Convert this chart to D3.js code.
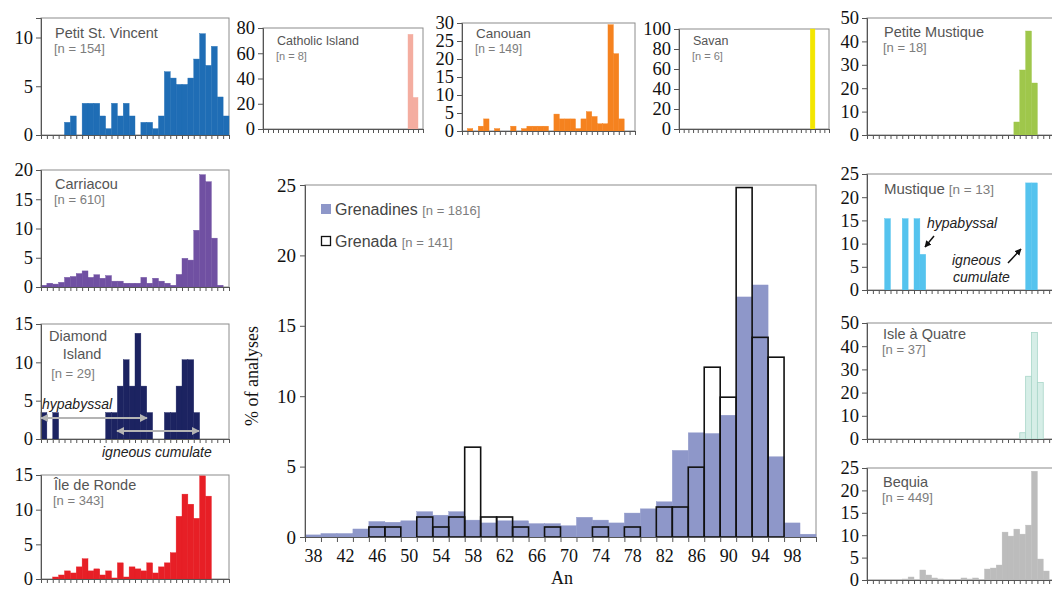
<!DOCTYPE html>
<html lang="en">
<head>
<meta charset="UTF-8">
<title>Plagioclase An histograms</title>
<script src="https://d3js.org/d3.v7.min.js"></script>
<style>
  body { margin: 0; background: #fff; }
  svg text { font-family: "Liberation Serif", "Times New Roman", serif; fill: #111; }
  .ttl { font-family: "Liberation Sans", Arial, sans-serif; fill: #555; }
  .nl { font-family: "Liberation Sans", Arial, sans-serif; fill: #7d7d7d; }
  .note { font-family: "Liberation Sans", Arial, sans-serif; font-style: italic; fill: #222; }
  .frame { fill: none; stroke: #8c8c8c; stroke-width: 1; }
  .axis path, .axis line { stroke: #555; }
</style>
</head>
<body>
<svg id="fig" width="1052" height="589"></svg>
<script>
// An bins (2-unit wide categories) and axis labels
const anBins = [38,40,42,44,46,48,50,52,54,56,58,60,62,64,66,68,70,72,74,76,78,80,82,84,86,88,90,92,94,96,98,100];
const anEdges = [37,39,41,43,45,47,49,51,53,55,57,59,61,63,65,67,69,71,73,75,77,79,81,83,85,87,89,91,93,95,97,99,101];
const anLabels = [38,42,46,50,54,58,62,66,70,74,78,82,86,90,94,98];

// main chart, % of analyses per bin
const grenadines = [0.15,0.25,0.25,0.57,1.1,1.05,1.15,1.8,1.55,1.8,1.2,1.0,1.15,1.15,0.95,0.95,0.8,1.4,1.2,1.0,1.7,2.0,2.5,6.15,7.4,7.35,8.65,17.05,17.9,5.7,1.0,0.2];
const grenada = [0,0,0,0,0.71,0.71,0,1.42,0.71,1.42,6.38,1.42,1.42,0.71,0,0.71,0,0,0.71,0,0.71,0,2.13,2.13,4.96,12.06,9.93,24.82,14.18,12.77,0,0];

// individual islands, % of analyses per bin
const petitStVincent = [0,0,0,0,1.30,1.95,0,3.25,3.25,3.25,1.95,0.65,3.25,1.95,3.25,1.95,0,1.30,1.30,0.65,1.95,6.49,5.84,5.19,5.19,5.84,7.79,10.39,7.14,9.09,3.90,1.95];
const catholicIsland = [0,0,0,0,0,0,0,0,0,0,0,0,0,0,0,0,0,0,0,0,0,0,0,0,0,0,0,0,0,75,25,0];
const canouan = [0,0.67,0,1.34,3.36,0,0.67,0,0,1.34,0,0.67,1.34,1.34,1.34,1.34,0,4.70,3.36,3.36,3.36,0.67,3.36,5.37,4.03,2.01,2.01,29.53,21.48,3.36,0,0];
const savan = [0,0,0,0,0,0,0,0,0,0,0,0,0,0,0,0,0,0,0,0,0,0,0,0,0,0,0,0,100,0,0,0];
const petiteMustique = [0,0,0,0,0,0,0,0,0,0,0,0,0,0,0,0,0,0,0,0,0,0,0,0,0,5.56,27.78,44.44,22.22,0,0,0];
const carriacou = [0.3,0.65,0.5,0.8,1.65,1.8,2.3,2.75,1.65,2.1,1.5,1.95,1.0,1.0,0.65,0.65,0.65,1.65,0.65,1.5,1.0,0.65,0.3,2.15,4.9,4.6,9.7,19.2,18.0,8.35,0.3,0];
const diamondIsland = [3.45,0,3.45,0,0,0,0,0,0,0,0,3.45,3.45,6.90,10.34,6.90,13.79,6.90,3.45,0,0,3.45,3.45,6.90,10.34,10.34,3.45,0,0,0,0,0];
const ileDeRonde = [0,0,0.29,0.58,1.17,0.87,1.75,2.92,1.17,1.46,0.58,1.17,0.15,2.33,0.29,1.75,1.46,1.17,2.33,0.87,1.75,2.33,3.79,9.04,12.24,10.79,8.75,14.87,11.95,0,0,0];
const mustique = [0,0,0,15.38,0,0,15.38,0,15.38,7.69,0,0,0,0,0,0,0,0,0,0,0,0,0,0,0,0,0,23.08,23.08,0,0,0];
const isleAQuatre = [0,0,0,0,0,0,0,0,0,0,0,0,0,0,0,0,0,0,0,0,0,0,0,0,0,0,2.70,27.03,45.95,24.32,0,0];
const bequia = [0,0,0,0,0,0,0.22,0.67,0,2.23,1.11,0.45,0.22,0,0,0,0.45,0.22,0.45,0,2.45,2.67,3.34,10.69,9.80,11.36,10.24,12.25,24.28,4.68,2.0,0];

const svg = d3.select("#fig");

// layout of the small panels
const panels = [
  { name: "Petit St. Vincent", n: "[n = 154]", values: petitStVincent, color: "#1f6db5", x0: 41, x1: 229, y0: 18, y1: 135, ymax: 12, ticks: [0,5,10], tx: 55, ty: 38, fs: 14.5 },
  { name: "Catholic Island", n: "[n = 8]", values: catholicIsland, color: "#f4ada0", x0: 263, x1: 423, y0: 28, y1: 129, ymax: 80, ticks: [0,20,40,60,80], tx: 277, ty: 45, fs: 12.5 },
  { name: "Canouan", n: "[n = 149]", values: canouan, color: "#f5821f", x0: 462, x1: 635, y0: 23, y1: 131, ymax: 30, ticks: [0,5,10,15,20,25,30], tx: 476, ty: 38, fs: 13.5 },
  { name: "Savan", n: "[n = 6]", values: savan, color: "#f3e600", x0: 679, x1: 829, y0: 29, y1: 129, ymax: 100, ticks: [0,20,40,60,80,100], tx: 693, ty: 45, fs: 12.5 },
  { name: "Petite Mustique", n: "[n = 18]", values: petiteMustique, color: "#9fc74b", x0: 867, x1: 1055, y0: 18, y1: 135, ymax: 50, ticks: [0,10,20,30,40,50], tx: 884, ty: 37, fs: 14.5 },
  { name: "Carriacou", n: "[n = 610]", values: carriacou, color: "#7050a2", x0: 41, x1: 229, y0: 170, y1: 287, ymax: 20, ticks: [0,5,10,15,20], tx: 55, ty: 189, fs: 14.5 },
  { name: "Diamond", n: "[n = 29]", values: diamondIsland, color: "#1c2361", x0: 41, x1: 229, y0: 324, y1: 439, ymax: 15, ticks: [0,5,10,15], tx: 78, ty: 341, fs: 14.5, center: true },
  { name: "Île de Ronde", n: "[n = 343]", values: ileDeRonde, color: "#e71f26", x0: 41, x1: 229, y0: 475, y1: 579, ymax: 15, ticks: [0,5,10,15], tx: 54, ty: 490, fs: 14.5 },
  { name: "Mustique", n: " [n = 13]", values: mustique, color: "#55c3ee", x0: 867, x1: 1055, y0: 174, y1: 290, ymax: 25, ticks: [0,5,10,15,20,25], tx: 884, ty: 194, fs: 15, inline: true },
  { name: "Isle à Quatre", n: "[n = 37]", values: isleAQuatre, color: "#d6eee7", stroke: "#a9d6c9", x0: 867, x1: 1055, y0: 323, y1: 439, ymax: 50, ticks: [0,10,20,30,40,50], tx: 883, ty: 339, fs: 14.5 },
  { name: "Bequia", n: "[n = 449]", values: bequia, color: "#bcbcbc", x0: 867, x1: 1055, y0: 468, y1: 580, ymax: 25, ticks: [0,5,10,15,20,25], tx: 883, ty: 487, fs: 14.5 }
];

panels.forEach(p => {
  const x = d3.scaleLinear().domain([37, 101]).range([p.x0, p.x1]);
  const y = d3.scaleLinear().domain([0, p.ymax]).range([p.y1, p.y0]);
  const g = svg.append("g");

  g.append("rect").attr("class", "frame")
    .attr("x", p.x0).attr("y", p.y0)
    .attr("width", p.x1 - p.x0).attr("height", p.y1 - p.y0);

  const bars = anBins.map((b, i) => ({ b, v: p.values[i] })).filter(d => d.v > 0);
  g.selectAll(".bar").data(bars).enter().append("rect")
    .attr("x", d => x(d.b - 1))
    .attr("width", d => x(d.b + 1) - x(d.b - 1))
    .attr("y", d => y(d.v))
    .attr("height", d => y(0) - y(d.v))
    .attr("fill", p.color)
    .attr("stroke", p.stroke || p.color)
    .attr("stroke-width", p.stroke ? 0.8 : 0.4);

  g.append("g").attr("class", "axis")
    .attr("transform", `translate(${p.x0},0)`)
    .call(d3.axisLeft(y).tickValues(p.ticks).tickSize(5).tickPadding(3))
    .call(a => a.selectAll("text").style("font-size", "18.5px").style("font-family", "Liberation Serif"))
    .call(a => a.select(".domain").attr("stroke", "#8c8c8c"));

  g.append("g").attr("class", "axis")
    .attr("transform", `translate(0,${p.y1})`)
    .call(d3.axisBottom(x).tickValues(anEdges).tickFormat("").tickSize(4));

  if (p.inline) {
    const t = g.append("text").attr("class", "ttl").attr("x", p.tx).attr("y", p.ty).style("font-size", p.fs + "px");
    t.append("tspan").text(p.name);
    t.append("tspan").attr("class", "nl").style("font-size", (p.fs - 1.5) + "px").text(p.n);
  } else if (p.center) {
    g.append("text").attr("class", "ttl").attr("x", p.tx).attr("y", p.ty).attr("text-anchor", "middle").style("font-size", p.fs + "px").text(p.name);
    g.append("text").attr("class", "ttl").attr("x", p.tx + 4).attr("y", p.ty + 18).attr("text-anchor", "middle").style("font-size", p.fs + "px").text("Island");
    g.append("text").attr("class", "nl").attr("x", p.tx - 5).attr("y", p.ty + 37).attr("text-anchor", "middle").style("font-size", (p.fs - 1.5) + "px").text(p.n);
  } else {
    g.append("text").attr("class", "ttl").attr("x", p.tx).attr("y", p.ty).style("font-size", p.fs + "px").text(p.name);
    g.append("text").attr("class", "nl").attr("x", p.tx - 1).attr("y", p.ty + 15).style("font-size", (p.fs - 1.5) + "px").text(p.n);
  }
});

// arrow markers
const defs = svg.append("defs");
defs.append("marker").attr("id", "ahGray").attr("viewBox", "0 0 10 10").attr("refX", 9).attr("refY", 5)
  .attr("markerWidth", 4).attr("markerHeight", 4).attr("orient", "auto-start-reverse")
  .append("path").attr("d", "M0,0 L10,5 L0,10 z").attr("fill", "#b4b4b4");
defs.append("marker").attr("id", "ahBlack").attr("viewBox", "0 0 10 10").attr("refX", 9).attr("refY", 5)
  .attr("markerWidth", 4.5).attr("markerHeight", 4.5).attr("orient", "auto")
  .append("path").attr("d", "M0,0 L10,5 L0,10 z").attr("fill", "#111");

// Diamond Island notes
svg.append("text").attr("class", "note").attr("x", 42).attr("y", 409).style("font-size", "14px").text("hypabyssal");
svg.append("line").attr("x1", 41).attr("x2", 147).attr("y1", 418).attr("y2", 418)
  .attr("stroke", "#b4b4b4").attr("stroke-width", 2)
  .attr("marker-start", "url(#ahGray)").attr("marker-end", "url(#ahGray)");
svg.append("line").attr("x1", 117).attr("x2", 199).attr("y1", 431).attr("y2", 431)
  .attr("stroke", "#b4b4b4").attr("stroke-width", 2)
  .attr("marker-start", "url(#ahGray)").attr("marker-end", "url(#ahGray)");
svg.append("text").attr("class", "note").attr("x", 102).attr("y", 457).style("font-size", "14px").text("igneous cumulate");

// Mustique notes
svg.append("text").attr("class", "note").attr("x", 927).attr("y", 228).style("font-size", "14px").text("hypabyssal");
svg.append("line").attr("x1", 934).attr("y1", 236).attr("x2", 925).attr("y2", 247)
  .attr("stroke", "#111").attr("stroke-width", 1.5).attr("marker-end", "url(#ahBlack)");
svg.append("text").attr("class", "note").attr("x", 952).attr("y", 265).style("font-size", "14px").text("igneous");
svg.append("text").attr("class", "note").attr("x", 953).attr("y", 282).style("font-size", "14px").text("cumulate");
svg.append("line").attr("x1", 1008).attr("y1", 263).attr("x2", 1021).attr("y2", 249)
  .attr("stroke", "#111").attr("stroke-width", 1.5).attr("marker-end", "url(#ahBlack)");

// ---- main chart ----
const mx = d3.scaleLinear().domain([37, 101]).range([305, 816]);
const my = d3.scaleLinear().domain([0, 25]).range([537, 185]);
const main = svg.append("g");

main.append("rect").attr("class", "frame")
  .attr("x", mx(37)).attr("y", my(25))
  .attr("width", mx(101) - mx(37)).attr("height", my(0) - my(25));

const gBars = anBins.map((b, i) => ({ b, v: grenadines[i] })).filter(d => d.v > 0);
main.selectAll(".gbar").data(gBars).enter().append("rect")
  .attr("x", d => mx(d.b - 1))
  .attr("width", d => mx(d.b + 1) - mx(d.b - 1))
  .attr("y", d => my(d.v))
  .attr("height", d => my(0) - my(d.v))
  .attr("fill", "#8e97c9").attr("stroke", "#8e97c9").attr("stroke-width", 0.4);

const grBars = anBins.map((b, i) => ({ b, v: grenada[i] })).filter(d => d.v > 0);
main.selectAll(".grbar").data(grBars).enter().append("rect")
  .attr("x", d => mx(d.b - 1))
  .attr("width", d => mx(d.b + 1) - mx(d.b - 1))
  .attr("y", d => my(d.v))
  .attr("height", d => my(0) - my(d.v))
  .attr("fill", "none").attr("stroke", "#111").attr("stroke-width", 1.6);

main.append("g").attr("class", "axis")
  .attr("transform", `translate(${mx(37)},0)`)
  .call(d3.axisLeft(my).tickValues([0,5,10,15,20,25]).tickSize(5).tickPadding(4))
  .call(a => a.selectAll("text").style("font-size", "19px").style("font-family", "Liberation Serif"));

main.append("g").attr("class", "axis")
  .attr("transform", `translate(0,${my(0)})`)
  .call(d3.axisBottom(mx).tickValues(anEdges).tickFormat("").tickSize(5));

main.append("g").attr("class", "axis")
  .attr("transform", `translate(0,${my(0)})`)
  .call(d3.axisBottom(mx).tickValues(anLabels).tickSize(0).tickPadding(12))
  .call(a => a.select(".domain").remove())
  .call(a => a.selectAll("text").style("font-size", "18px").style("font-family", "Liberation Serif"));

main.append("text").attr("transform", "translate(258,376) rotate(-90)")
  .attr("text-anchor", "middle").style("font-size", "18px").text("% of analyses");
main.append("text").attr("x", 562).attr("y", 584).attr("text-anchor", "middle").style("font-size", "18px").text("An");

// legend
main.append("rect").attr("x", 321).attr("y", 204).attr("width", 10).attr("height", 10).attr("fill", "#8e97c9");
const l1 = main.append("text").attr("class", "ttl").attr("x", 335).attr("y", 215).style("font-size", "16px");
l1.append("tspan").style("fill", "#444").text("Grenadines ");
l1.append("tspan").attr("class", "nl").style("font-size", "13px").text("[n = 1816]");
main.append("rect").attr("x", 321.5).attr("y", 236.5).attr("width", 9).attr("height", 9).attr("fill", "none").attr("stroke", "#111").attr("stroke-width", 1.3);
const l2 = main.append("text").attr("class", "ttl").attr("x", 335).attr("y", 247).style("font-size", "16px");
l2.append("tspan").style("fill", "#444").text("Grenada ");
l2.append("tspan").attr("class", "nl").style("font-size", "13px").text("[n = 141]");
</script>
</body>
</html>
